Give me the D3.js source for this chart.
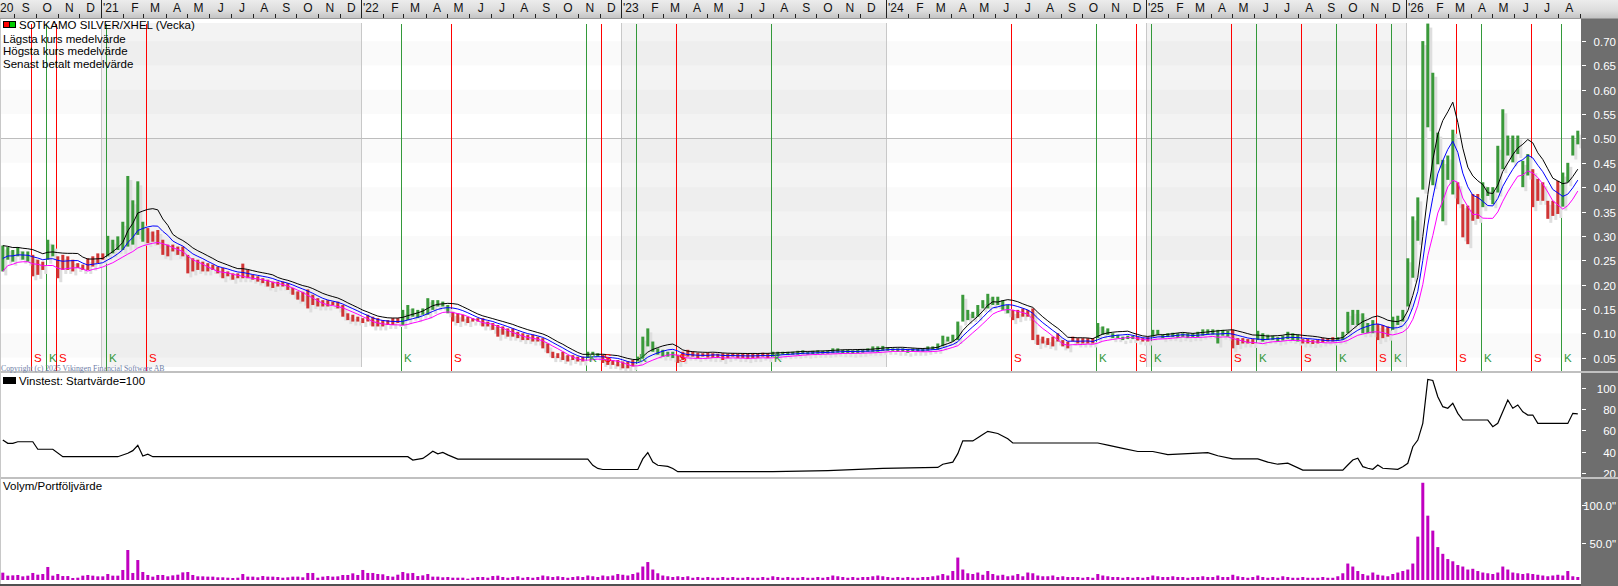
<!DOCTYPE html>
<html><head><meta charset="utf-8">
<script src="https://cdn.jsdelivr.net/npm/d3@7/dist/d3.min.js"></script>
<style>
html,body{margin:0;padding:0;background:#fff;}
svg{display:block;font-family:"Liberation Sans",Arial,sans-serif;}
</style></head><body>
<svg id="c" width="1618" height="586"></svg>
<script>
// ---------- DATA (weekly, index 0 = mid Aug 2020) ----------
const highPrice = [
.280,.277,.271,.277,.268,.268,.261,.251,.247,.292,
.282,.258,.261,.258,.251,.244,.241,.254,.258,.264,
.264,.300,.292,.299,.329,.423,.373,.412,.329,.316,
.309,.312,.292,.282,.282,.278,.278,.261,.254,.251,
.247,.244,.241,.237,.234,.227,.223,.223,.243,.230,
.220,.217,.213,.210,.206,.206,.206,.203,.193,.186,
.185,.190,.179,.172,.168,.168,.165,.165,.158,.141,
.138,.134,.131,.138,.134,.131,.127,.127,.131,.131,
.148,.158,.151,.148,.151,.172,.168,.168,.165,.158,
.144,.141,.138,.134,.131,.131,.131,.124,.121,.117,
.114,.110,.110,.103,.100,.097,.097,.093,.090,.079,
.062,.059,.062,.055,.055,.052,.052,.062,.062,.059,
.056,.049,.045,.045,.042,.042,.045,.052,.093,.110,
.083,.069,.066,.062,.062,.056,.062,.066,.062,.060,
.059,.060,.059,.058,.059,.058,.059,.058,.059,.058,
.059,.058,.060,.059,.062,.062,.062,.062,.062,.064,
.065,.062,.064,.065,.064,.065,.069,.069,.066,.066,
.065,.066,.067,.069,.073,.073,.074,.071,.069,.069,
.069,.067,.069,.069,.069,.073,.073,.079,.095,.093,
.097,.124,.179,.148,.144,.158,.168,.181,.175,.175,
.168,.158,.148,.148,.151,.148,.151,.097,.093,.090,
.093,.100,.086,.083,.093,.090,.090,.090,.090,.121,
.114,.110,.100,.097,.093,.095,.095,.092,.090,.092,
.107,.107,.097,.100,.101,.100,.100,.100,.100,.103,
.108,.108,.108,.107,.107,.105,.107,.090,.090,.088,
.088,.105,.100,.097,.095,.092,.095,.103,.100,.097,
.088,.088,.086,.086,.090,.090,.092,.092,.103,.144,
.148,.148,.141,.121,.127,.119,.117,.114,.134,.136,
.148,.254,.340,.379,.700,.736,.635,.512,.456,.465,
.518,.410,.365,.362,.386,.386,.410,.400,.400,.485,
.560,.506,.506,.506,.454,.468,.437,.417,.410,.372,
.372,.413,.430,.450,.506,.516];
const lowPrice = [
.227,.251,.247,.258,.251,.247,.217,.220,.230,.251,
.258,.213,.230,.230,.227,.234,.230,.230,.237,.244,
.251,.258,.264,.271,.271,.278,.282,.302,.288,.285,
.288,.282,.261,.258,.268,.261,.258,.223,.227,.230,
.227,.227,.230,.223,.213,.217,.210,.213,.213,.213,
.210,.206,.203,.196,.193,.196,.196,.189,.179,.169,
.165,.151,.158,.155,.155,.155,.158,.151,.134,.127,
.124,.124,.121,.124,.114,.114,.114,.117,.117,.121,
.117,.127,.134,.131,.138,.138,.148,.155,.155,.141,
.124,.121,.124,.121,.124,.124,.114,.114,.107,.093,
.097,.093,.093,.090,.086,.086,.083,.083,.069,.059,
.049,.049,.045,.042,.045,.042,.042,.049,.056,.052,
.039,.035,.035,.032,.028,.028,.032,.042,.049,.073,
.062,.056,.052,.052,.049,.039,.045,.052,.052,.049,
.052,.050,.049,.049,.045,.049,.052,.049,.049,.047,
.049,.049,.052,.049,.052,.053,.056,.055,.056,.056,
.057,.056,.057,.058,.058,.058,.059,.060,.059,.059,
.058,.059,.060,.062,.062,.062,.064,.064,.064,.062,
.062,.060,.062,.062,.062,.064,.066,.066,.073,.083,
.083,.086,.124,.127,.131,.134,.151,.151,.158,.158,
.148,.141,.127,.131,.134,.134,.086,.076,.079,.076,
.073,.083,.073,.069,.083,.079,.079,.079,.079,.090,
.097,.097,.090,.090,.086,.088,.088,.085,.083,.083,
.093,.097,.090,.092,.092,.090,.092,.090,.092,.092,
.095,.097,.097,.079,.095,.093,.069,.076,.079,.079,
.078,.086,.083,.086,.086,.083,.085,.088,.086,.083,
.079,.079,.078,.079,.081,.083,.083,.085,.086,.100,
.117,.117,.100,.100,.100,.086,.090,.093,.107,.117,
.124,.155,.214,.290,.395,.523,.404,.447,.330,.415,
.385,.365,.297,.283,.331,.335,.359,.382,.365,.389,
.437,.465,.451,.468,.400,.424,.359,.372,.372,.335,
.341,.345,.360,.410,.465,.488];
const volume = [
9.8,5.8,6.2,6.7,4.9,5.8,9.4,7.1,8.0,17.4,
5.8,8.0,5.3,5.3,2.7,3.1,5.8,6.7,5.8,4.9,
4.9,8.0,5.8,5.8,13.4,40.1,9.4,26.7,10.7,6.7,
4.5,6.7,6.7,4.9,6.2,7.1,10.2,10.7,6.7,4.9,
4.9,4.5,4.5,3.6,3.6,3.1,2.7,3.1,8.0,4.5,
4.5,3.6,5.3,4.5,4.5,4.0,3.1,3.6,4.5,4.5,
3.6,9.4,9.4,3.1,4.5,5.3,4.5,4.9,6.7,6.7,
8.9,6.7,13.4,9.4,9.4,8.0,7.6,5.3,4.5,7.1,
10.7,8.9,9.4,5.3,6.2,8.0,4.5,4.5,3.6,4.0,
3.1,3.1,3.1,1.8,3.1,4.0,4.0,3.1,5.3,5.8,
4,3,4,5,3,4,3,4,6,5,
4,5,4,3,4,5,4,6,5,4,
6,5,6,8,7,6,8,10,18,24,
14,9,6,5,4,5,4,5,3,4,
3,4,3,3,4,3,4,3,3,4,
3,3,4,3,5,4,3,4,3,3,
4,3,3,4,3,4,6,5,4,3,
4,3,4,4,5,6,5,4,3,4,
3,4,3,3,4,4,5,6,8,6,
12,30,14,9,8,10,7,12,8,6,
7,5,6,8,5,10,9,6,5,5,
6,4,5,4,4,4,3,4,3,8,
6,5,4,4,3,4,3,4,3,4,
6,5,4,4,5,4,4,3,4,4,
5,4,4,6,4,4,7,5,4,3,
4,6,4,3,4,3,5,4,3,3,
4,3,3,3,4,3,3,5,9,22,
18,12,8,6,10,7,6,5,8,10,
12,14,22,58,130,86,66,44,35,28,
25,20,18,14,15,12,10,9,8,10,
18,14,10,9,8,9,8,7,6,5,
6,7,6,12,5,4];
const eqWeek  = [0,1,2,3,6,7,10,12,23,25,26,27,28,29,30,81,82,84,85,86,87,88,89,91,117,118,119,120,127,128,129,130,131,133,134,135,154,165,176,187,188,190,191,192,194,195,196,197,199,201,202,219,221,224,227,230,233,237,241,243,246,251,253,255,257,260,268,269,270,271,272,273,274,275,276,279,280,281,282,283,284,285,286,287,288,289,290,291,292,297,298,299,301,302,303,304,305,306,307,313,314,315];
const eqValue = [50.8,47.7,47.7,49.2,49.2,42.1,42.1,35.1,35.1,38.3,40.8,45.8,35.8,37.4,35.1,35.1,31.9,33.5,36.8,40.2,37.8,39.1,36.8,32.9,32.9,27,24,23,23,33,39,30,27,26,24,21,21,22,24,25,28,30,38,50,50,53,56,59,57,52,48,48,46,43,40,40,37,38,39,36,33,33,30,28,29,22.5,22.5,27.3,32,33.6,25.7,24.2,23.2,27.3,24.2,23.2,25.7,28.9,44.5,50.8,66.6,108,107,91.7,82.3,80.8,85.5,76,69.7,69.7,63.4,66.6,88.6,80.8,83.9,77.5,74.4,74.4,66.5,66.5,76,75.5];
const signalWeek = [6,9,11,21,29,80,90,117,120,127,135,154,202,219,227,230,246,251,260,267,275,278,291,296,306,312];
const signalType = ["S","K","S","K","S","K","S","K","S","K","S","K","S","K","S","K","S","K","S","K","S","K","S","K","S","K"];
const priceTicks = [0.05,0.10,0.15,0.20,0.25,0.30,0.35,0.40,0.45,0.50,0.55,0.60,0.65,0.70];
const equityTicks = [20,40,60,80,100];
const volumeTicks = [50,100];
const yearStartWeek = [20,72,124,177,229,281];
const yearLabels = ["'21","'22","'23","'24","'25","'26"];
const monthLetters = ["J","F","M","A","M","J","J","A","S","O","N","D"];
const legendLines = ["Lägsta kurs medelvärde","Högsta kurs medelvärde","Senast betalt medelvärde"];

// ---------- LAYOUT ----------
const svg = d3.select("#c");
const PW = 1581; // plot right edge
const X = d3.scaleLinear().domain([0,315]).range([1.3,1576.3]);
const yP = d3.scaleLinear().domain([0.05,0.70]).range([357.6,41.1]);
const yE = d3.scaleLinear().domain([20,100]).range([472.7,387.9]);
const yV = d3.scaleLinear().domain([0,100]).range([580,505.2]);
const GREEN = "#3a993a", RED = "#d03434";

svg.append("rect").attr("width",1618).attr("height",586).attr("fill","#fff");
const defs = svg.append("defs");
const g1 = defs.append("linearGradient").attr("id","hdr").attr("x1",0).attr("y1",0).attr("x2",0).attr("y2",1);
g1.append("stop").attr("offset","0%").attr("stop-color","#ececec");
g1.append("stop").attr("offset","60%").attr("stop-color","#dcdcdc");
g1.append("stop").attr("offset","100%").attr("stop-color","#c4c4c4");
defs.append("clipPath").attr("id","mainClip").append("rect").attr("x",0).attr("y",19).attr("width",PW).attr("height",352);
defs.append("clipPath").attr("id","eqClip").append("rect").attr("x",0).attr("y",373).attr("width",PW).attr("height",104);

// main background: year shading + stripes
const main = svg.append("g").attr("clip-path","url(#mainClip)");
const yearEnds = yearStartWeek.slice(1).concat([330]);
yearStartWeek.forEach((s,k)=>{
  if (k%2===0) main.append("rect").attr("x",X(s)).attr("y",23).attr("width",X(yearEnds[k])-X(s)).attr("height",344).attr("fill","#f3f3f3");
});
for (let k=0;k<16;k++){
  if (k%2===1) main.append("rect").attr("x",0).attr("width",PW)
    .attr("y",yP((k+1)*0.05)).attr("height",yP(k*0.05)-yP((k+1)*0.05))
    .attr("fill","#000").attr("fill-opacity",0.018);
}
main.append("rect").attr("x",0).attr("y",367).attr("width",PW).attr("height",5).attr("fill","#fff");
yearStartWeek.forEach(s=>{
  main.append("line").attr("x1",Math.round(X(s))+0.5).attr("x2",Math.round(X(s))+0.5).attr("y1",23).attr("y2",367).attr("stroke","#c8c8c8");
});
main.append("line").attr("x1",0).attr("x2",PW).attr("y1",Math.round(yP(0.5))+0.5).attr("y2",Math.round(yP(0.5))+0.5).attr("stroke","#bdbdbd");

// signal lines
signalWeek.forEach((w,k)=>{
  const x = Math.round(X(w))+0.5;
  main.append("line").attr("x1",x).attr("x2",x).attr("y1",24).attr("y2",371)
    .attr("stroke", signalType[k]==="S" ? "#ff0000" : "#33993a");
});

// bar colour state from signals
const state = highPrice.map((_,i)=>{
  let s="K"; signalWeek.forEach((w,k)=>{ if (w<=i) s=signalType[k]; }); return s;
});
const idx = d3.range(highPrice.length);
main.append("g").selectAll("rect").data(idx).join("rect")
  .attr("x",i=>X(i)+3).attr("width",3)
  .attr("y",i=>yP(highPrice[i])+4).attr("height",i=>Math.max(2,yP(lowPrice[i])-yP(highPrice[i])))
  .attr("fill","#dedede");
main.append("g").selectAll("rect").data(idx).join("rect")
  .attr("x",i=>X(i)).attr("width",3)
  .attr("y",i=>yP(highPrice[i])).attr("height",i=>Math.max(2,yP(lowPrice[i])-yP(highPrice[i])))
  .attr("fill",i=>state[i]==="S"?RED:GREEN);

// moving averages (7 weeks) of the read series
function sma(a,n){ return a.map((_,i)=>d3.mean(a.slice(Math.max(0,i-n+1),i+1))); }
const midPrice = idx.map(i=>(highPrice[i]+lowPrice[i])/2);
const maLine = d3.line().x((d,i)=>X(i)+1.5).y(d=>yP(d));
[[sma(lowPrice,7),"#ff00ff"],[sma(midPrice,7),"#0000ff"],[sma(highPrice,7),"#000000"]].forEach(([s,c])=>{
  main.append("path").attr("d",maLine(s)).attr("fill","none").attr("stroke",c).attr("stroke-width",1);
});

// signal letters
signalWeek.forEach((w,k)=>{
  svg.append("text").attr("x",Math.round(X(w))+3).attr("y",361.5).attr("font-size",11.5)
    .attr("fill", signalType[k]==="S" ? "#ff0000" : "#33993a").text(signalType[k]);
});

// legend main
svg.append("rect").attr("x",3.5).attr("y",21.5).attr("width",6).attr("height",6).attr("fill","#ff0000").attr("stroke","#000");
svg.append("rect").attr("x",9.5).attr("y",21.5).attr("width",6).attr("height",6).attr("fill","#00cc00").attr("stroke","#000");
svg.append("text").attr("x",19).attr("y",29).attr("font-size",11.5).text("SOTKAMO SILVER/XHEL (Vecka)");
legendLines.forEach((t,k)=>svg.append("text").attr("x",3).attr("y",42.5+k*12.5).attr("font-size",11.5).text(t));

// dividers
svg.append("rect").attr("x",0).attr("y",371).attr("width",PW).attr("height",2).attr("fill","#c0c0c0");
svg.append("rect").attr("x",0).attr("y",477).attr("width",PW).attr("height",2).attr("fill","#c0c0c0");
svg.append("rect").attr("x",0).attr("y",19).attr("width",1).attr("height",566).attr("fill","#c8c8c8");
svg.append("rect").attr("x",0).attr("y",584).attr("width",1618).attr("height",2).attr("fill","#505050");
svg.append("text").attr("x",1).attr("y",371.2).attr("font-family","'Liberation Serif','Times New Roman',serif")
  .attr("font-size",7.8).attr("fill","#7080a8").text("Copyright (c) 2025 Vikingen Financial Software AB");

// equity panel
svg.append("rect").attr("x",3).attr("y",377).attr("width",13).attr("height",7).attr("fill","#000");
svg.append("text").attr("x",19).attr("y",384.5).attr("font-size",11.5).text("Vinstest: Startvärde=100");
svg.append("g").attr("clip-path","url(#eqClip)").append("path")
  .attr("d",d3.line().x(i=>X(eqWeek[i])+1.5).y(i=>yE(eqValue[i]))(d3.range(eqWeek.length)))
  .attr("fill","none").attr("stroke","#000").attr("stroke-width",1.2);

// volume panel
svg.append("text").attr("x",3).attr("y",490).attr("font-size",11.5).text("Volym/Portföljvärde");
svg.append("g").selectAll("rect").data(idx).join("rect")
  .attr("x",i=>X(i)).attr("width",3)
  .attr("y",i=>yV(volume[i])).attr("height",i=>yV(0)-yV(volume[i]))
  .attr("fill","#c000c0");

// right axis panel
svg.append("rect").attr("x",PW).attr("y",18).attr("width",1618-PW).attr("height",568).attr("fill","#6e6e6e");
const axG = svg.append("g").attr("fill","#fff").attr("font-size",11.5).attr("text-anchor","end");
function ticks(vals,scale,fmt){
  vals.forEach(v=>{
    const y = Math.round(scale(v))+0.5;
    svg.append("line").attr("x1",PW+1).attr("x2",PW+5).attr("y1",y).attr("y2",y).attr("stroke","#fff");
    axG.append("text").attr("x",1616).attr("y",y+4).text(fmt(v));
  });
}
ticks(priceTicks,yP,v=>v.toFixed(2));
ticks(equityTicks,yE,v=>String(v));
ticks(volumeTicks,yV,v=>v.toFixed(1)+'"');
svg.append("rect").attr("x",PW).attr("y",371).attr("width",1618-PW).attr("height",2).attr("fill","#c0c0c0");
svg.append("rect").attr("x",PW).attr("y",477).attr("width",1618-PW).attr("height",2).attr("fill","#c0c0c0");

// header
svg.append("rect").attr("x",0).attr("y",0).attr("width",1618).attr("height",18).attr("fill","url(#hdr)");
svg.append("line").attr("x1",0).attr("x2",1618).attr("y1",18.5).attr("y2",18.5).attr("stroke","#9a9a9a");
const hdr = svg.append("g").attr("font-size",12).attr("fill","#111");
function doy(y,m,d){ return (Date.UTC(y,m,d)-Date.UTC(y,0,1))/86400000; }
const starts = [[2020,20-366/7]].concat(yearStartWeek.map((s,k)=>[2021+k,s]));
starts.forEach(([yr,s])=>{
  for (let m=0;m<12;m++){
    const tx = X(s+doy(yr,m,1)/7);
    if (m>0 && tx>2 && tx<PW) hdr.append("line").attr("x1",Math.round(tx)+0.5).attr("x2",Math.round(tx)+0.5).attr("y1",14).attr("y2",18).attr("stroke","#222");
    if (m===0) continue;
    const cx = X(s+doy(yr,m,15)/7)+1.5;
    if (cx>12 && cx<PW-4) hdr.append("text").attr("x",cx).attr("y",12).attr("text-anchor","middle").text(monthLetters[m]);
  }
});
hdr.append("text").attr("x",0).attr("y",12).text("20");
yearStartWeek.forEach((s,k)=>{
  const x = Math.round(X(s))+0.5;
  hdr.append("line").attr("x1",x).attr("x2",x).attr("y1",0).attr("y2",18).attr("stroke","#202020");
  hdr.append("text").attr("x",x+1.5).attr("y",12).text(yearLabels[k]);
});
</script>
</body></html>
